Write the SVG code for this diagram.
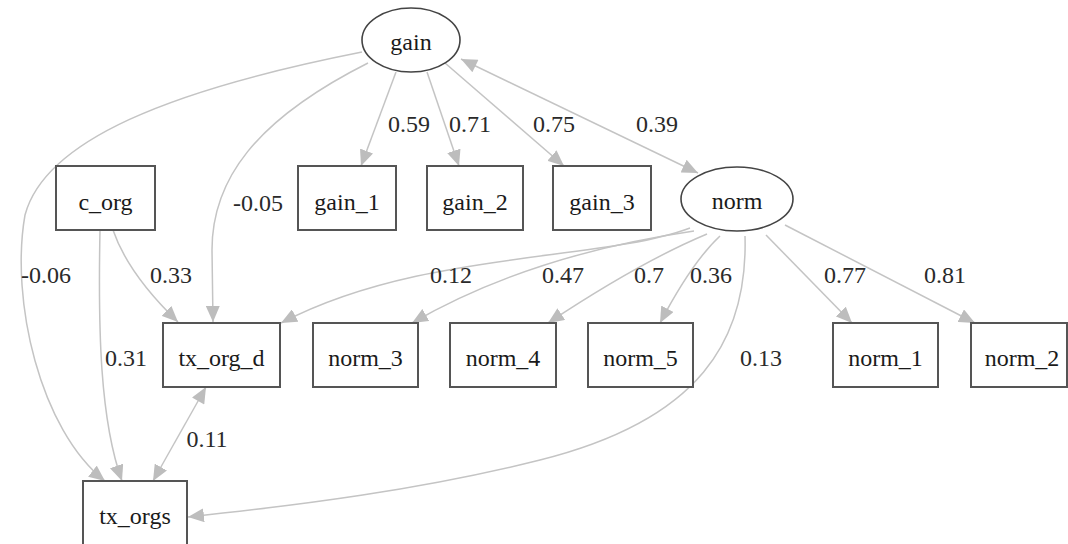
<svg xmlns="http://www.w3.org/2000/svg" width="1068" height="544" viewBox="0 0 1068 544">
  <style>
    .bg { fill: #ffffff; }
    .obs { fill: #ffffff; stroke: #555555; stroke-width: 2; }
    .lat { fill: #ffffff; stroke: #444444; stroke-width: 1.6; }
    text { font-family: 'Liberation Serif', 'Times New Roman', serif; font-size: 24px; text-anchor: middle; }
    .lbl { fill: #1a1a1a; }
    .edge { fill: none; stroke: #c4c4c4; stroke-width: 1.5; }
    .coef { fill: #2a2a2a; }
  </style>
  <defs>
    <marker id="arr" markerUnits="userSpaceOnUse" markerWidth="18" markerHeight="14" refX="16" refY="7" orient="auto">
      <path d="M0,0 L16,7 L0,14 Z" fill="#bdbdbd"/>
    </marker>
    <marker id="arrStart" markerUnits="userSpaceOnUse" markerWidth="18" markerHeight="14" refX="0" refY="7" orient="auto">
      <path d="M16,0 L0,7 L16,14 Z" fill="#bdbdbd"/>
    </marker>
  </defs>

  <rect class="bg" x="0" y="0" width="1068" height="544"/>

  <!-- connectors -->
  <g id="edges">
    <path class="edge" d="M396,72 L361,166" marker-end="url(#arr)"/>
    <path class="edge" d="M427,72 L459,166" marker-end="url(#arr)"/>
    <path class="edge" d="M445,63 L564,166" marker-end="url(#arr)"/>
    <path class="edge" d="M461,59 L698,173" marker-start="url(#arrStart)" marker-end="url(#arr)"/>
    <path class="edge" d="M368,63 C255,120 212,180 212,250 L213,322" marker-end="url(#arr)"/>
    <path class="edge" d="M362,52 C170,90 45,140 25,215 C10,300 40,430 105,481" marker-end="url(#arr)"/>
    <path class="edge" d="M113,230 C125,265 150,295 178,322" marker-end="url(#arr)"/>
    <path class="edge" d="M100,230 C98,330 100,420 122,481" marker-end="url(#arr)"/>
    <path class="edge" d="M206,387 L153,481" marker-start="url(#arrStart)" marker-end="url(#arr)"/>
    <path class="edge" d="M690,228 C600,262 420,250 281,323" marker-end="url(#arr)"/>
    <path class="edge" d="M694,231 Q530,255 412,323" marker-end="url(#arr)"/>
    <path class="edge" d="M707,234 Q640,262 548,323" marker-end="url(#arr)"/>
    <path class="edge" d="M720,236 Q692,262 660,323" marker-end="url(#arr)"/>
    <path class="edge" d="M745,236 C748,340 700,420 540,460 C420,490 300,505 188,517" marker-end="url(#arr)"/>
    <path class="edge" d="M766,235 L852,323" marker-end="url(#arr)"/>
    <path class="edge" d="M785,225 L975,323" marker-end="url(#arr)"/>

    <text class="coef" x="409" y="132">0.59</text>
    <text class="coef" x="470" y="132">0.71</text>
    <text class="coef" x="554" y="132">0.75</text>
    <text class="coef" x="657" y="132">0.39</text>
    <text class="coef" x="258" y="211">-0.05</text>
    <text class="coef" x="46" y="283">-0.06</text>
    <text class="coef" x="171" y="283">0.33</text>
    <text class="coef" x="451" y="283">0.12</text>
    <text class="coef" x="563" y="283">0.47</text>
    <text class="coef" x="649" y="283">0.7</text>
    <text class="coef" x="711" y="283">0.36</text>
    <text class="coef" x="845" y="283">0.77</text>
    <text class="coef" x="945" y="283">0.81</text>
    <text class="coef" x="126" y="366">0.31</text>
    <text class="coef" x="761" y="366">0.13</text>
    <text class="coef" x="207" y="447">0.11</text>
  </g>

  <!-- latent factors -->
  <g id="gain">
    <ellipse class="lat" cx="411" cy="40" rx="49" ry="32"/>
    <text class="lbl" x="411" y="50">gain</text>
  </g>
  <g id="norm">
    <ellipse class="lat" cx="737" cy="199" rx="56" ry="32"/>
    <text class="lbl" x="737" y="209">norm</text>
  </g>

  <!-- observed indicators, upper row -->
  <g id="c_org">
    <rect class="obs" x="56" y="166" width="99" height="64"/>
    <text class="lbl" x="105.5" y="210">c_org</text>
  </g>
  <g id="gain_1">
    <rect class="obs" x="298" y="166" width="98" height="64"/>
    <text class="lbl" x="347" y="210">gain_1</text>
  </g>
  <g id="gain_2">
    <rect class="obs" x="427" y="166" width="96" height="64"/>
    <text class="lbl" x="475" y="210">gain_2</text>
  </g>
  <g id="gain_3">
    <rect class="obs" x="553" y="166" width="98" height="64"/>
    <text class="lbl" x="602" y="210">gain_3</text>
  </g>

  <!-- observed indicators, lower row -->
  <g id="tx_org_d">
    <rect class="obs" x="163" y="323" width="117" height="64"/>
    <text class="lbl" x="221.5" y="366">tx_org_d</text>
  </g>
  <g id="norm_3">
    <rect class="obs" x="313" y="323" width="105" height="64"/>
    <text class="lbl" x="365.5" y="366">norm_3</text>
  </g>
  <g id="norm_4">
    <rect class="obs" x="450" y="323" width="106" height="64"/>
    <text class="lbl" x="503" y="366">norm_4</text>
  </g>
  <g id="norm_5">
    <rect class="obs" x="588" y="323" width="105" height="64"/>
    <text class="lbl" x="640.5" y="366">norm_5</text>
  </g>
  <g id="norm_1">
    <rect class="obs" x="833" y="323" width="105" height="64"/>
    <text class="lbl" x="885.5" y="366">norm_1</text>
  </g>
  <g id="norm_2">
    <rect class="obs" x="971" y="323" width="96" height="64"/>
    <text class="lbl" x="1022" y="366">norm_2</text>
  </g>
  <g id="tx_orgs">
    <rect class="obs" x="83" y="481" width="104" height="64"/>
    <text class="lbl" x="135" y="524">tx_orgs</text>
  </g>
</svg>
